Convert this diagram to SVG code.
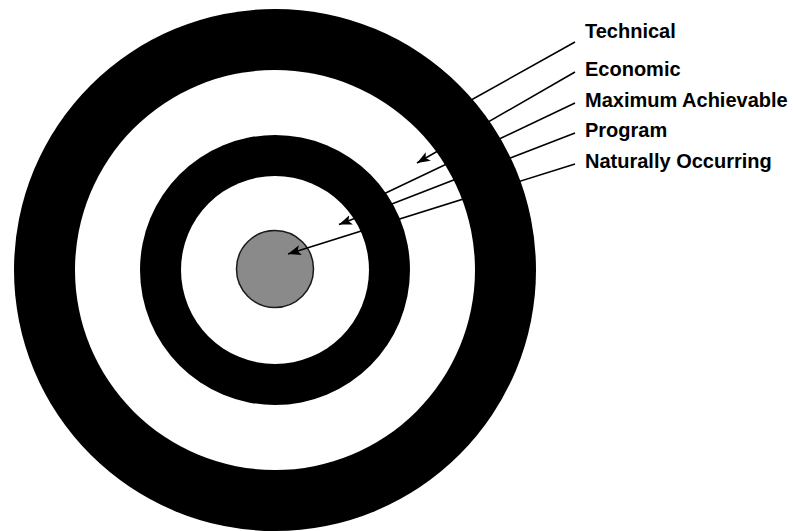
<svg xmlns="http://www.w3.org/2000/svg" width="793" height="531" viewBox="0 0 793 531">
  <style>
    .ring-black { fill: #000; }
    .ring-white { fill: #fff; }
    .bull { fill: #8a8a8a; stroke: #1a1a1a; stroke-width: 1.5; }
    .leader { stroke: #000; stroke-width: 1.6; fill: none; }
    .label { font-family: "Liberation Sans", Arial, sans-serif; font-weight: bold; font-size: 20px; fill: #000; }
  </style>
  <defs>
    <marker id="arrow" markerUnits="userSpaceOnUse" markerWidth="14" markerHeight="10" refX="13" refY="5" orient="auto">
      <path d="M0,0 L13,5 L0,10 L3,5 z" fill="#000"/>
    </marker>
  </defs>
  <rect width="793" height="531" fill="#fff"/>

  <g id="target">
    <circle id="ring-technical" class="ring-black" cx="275" cy="270" r="261"/>
    <circle id="ring-economic" class="ring-white" cx="275" cy="270" r="200"/>
    <circle id="ring-maximum-achievable" class="ring-black" cx="275" cy="270" r="135"/>
    <circle id="ring-program" class="ring-white" cx="275" cy="270" r="94"/>
    <circle id="ring-naturally-occurring" class="bull" cx="275" cy="269" r="38.5"/>
  </g>

  <g id="connectors">
    <line class="leader" x1="575" y1="42" x2="455" y2="109"/>
    <line class="leader" x1="575" y1="72" x2="417" y2="163" marker-end="url(#arrow)"/>
    <line class="leader" x1="575" y1="103" x2="372" y2="199.5"/>
    <line class="leader" x1="575" y1="133" x2="339" y2="224.5" marker-end="url(#arrow)"/>
    <line class="leader" x1="575" y1="164" x2="288" y2="254" marker-end="url(#arrow)"/>
  </g>

  <g id="label-technical"><text class="label" x="585" y="38">Technical</text></g>
  <g id="label-economic"><text class="label" x="585" y="76">Economic</text></g>
  <g id="label-maximum-achievable"><text class="label" x="585" y="107">Maximum Achievable</text></g>
  <g id="label-program"><text class="label" x="585" y="137">Program</text></g>
  <g id="label-naturally-occurring"><text class="label" x="585" y="168">Naturally Occurring</text></g>
</svg>
